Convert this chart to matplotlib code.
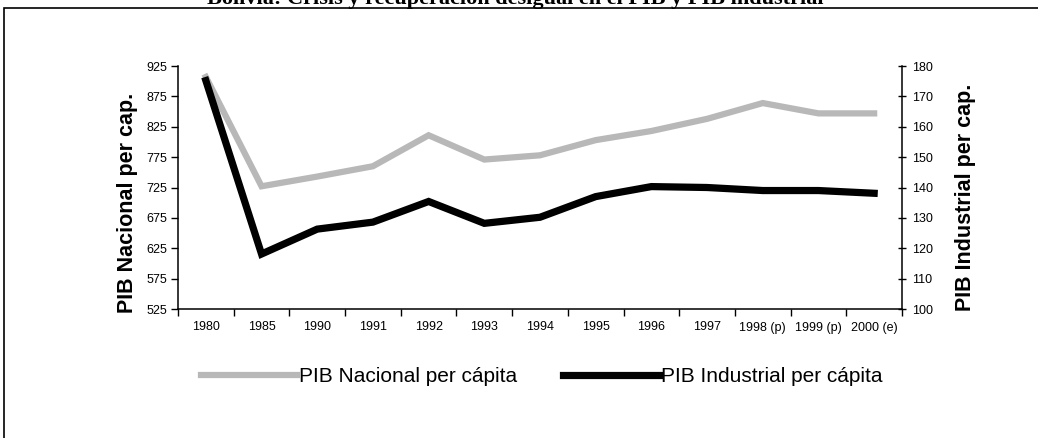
import matplotlib
matplotlib.use("Agg")
import matplotlib.pyplot as plt
from matplotlib.patches import Rectangle

# Datos
years = ["1980", "1985", "1990", "1991", "1992", "1993", "1994",
         "1995", "1996", "1997", "1998 (p)", "1999 (p)", "2000 (e)"]
pib_nacional = [907, 727, 743, 760, 811, 771, 778, 803, 818, 838, 864, 847, 847]
pib_industrial = [175.2, 118.1, 126.3, 128.6, 135.4, 128.2, 130.2, 137.0,
                  140.3, 140.0, 139.0, 139.0, 138.1]

plt.rcParams["font.family"] = ["Liberation Sans", "DejaVu Sans"]

W, H = 1038, 438
fig = plt.figure(figsize=(W / 100, H / 100), dpi=100)
ax = fig.add_axes([178 / W, 1 - 309 / H, (902 - 178) / W, (309 - 66) / H])
ax2 = ax.twinx()

x = list(range(len(years)))
l1, = ax.plot(x, pib_nacional, color="#b8b8b8", lw=4.5, solid_joinstyle="miter",
              label="PIB Nacional per cápita")
l2, = ax2.plot(x, pib_industrial, color="black", lw=5.2, solid_joinstyle="miter",
               label="PIB Industrial per cápita")

ax.set_xlim(-0.5, len(years) - 0.5)
ax.set_ylim(525, 925)
ax.set_yticks(range(525, 926, 50))
ax2.set_ylim(100, 180)
ax2.set_yticks(range(100, 181, 10))

# ticks en los limites de las categorias, etiquetas al centro
ax.set_xticks([i - 0.5 for i in range(len(years) + 1)])
ax.set_xticklabels([])
ax.set_xticks(x, minor=True)
ax.set_xticklabels(years, minor=True, fontsize=9)
ax.tick_params(axis="x", which="minor", length=0, pad=9)
ax.tick_params(axis="x", which="major", length=5, width=1, direction="out")
ax.tick_params(axis="y", length=5, width=1, direction="out", labelsize=9, pad=3)
ax2.tick_params(axis="y", length=6, width=1, direction="inout", labelsize=9, pad=4)

for a in (ax, ax2):
    a.spines["top"].set_visible(False)
    for s in ("left", "right", "bottom"):
        a.spines[s].set_linewidth(1.1)
ax.spines["right"].set_visible(False)
ax2.spines["left"].set_visible(False)
ax2.spines["bottom"].set_visible(False)

fig.text(128 / W, 1 - 203 / H, "PIB Nacional per cap.", rotation=90,
         ha="center", va="center", fontsize=15.5, fontweight="bold")
fig.text(965 / W, 1 - 197 / H, "PIB Industrial per cap.", rotation=90,
         ha="center", va="center", fontsize=15.5, fontweight="bold")

fig.legend(handles=[l1, l2], loc="center", bbox_to_anchor=(542 / W, 1 - 377 / H),
           ncol=2, frameon=False, handlelength=4.6, handletextpad=0.1,
           columnspacing=2.2, prop={"size": 15})

# titulo recortado por el borde superior
fig.text(515 / W, 1 - 4 / H,
         "Bolivia: Crisis y recuperación desigual en el PIB y PIB industrial",
         ha="center", va="baseline", fontsize=16, fontweight="bold",
         family="Liberation Serif")

fig.patches.append(Rectangle((4 / W, -0.1), 1.2, 1 - 8 / H + 0.1,
                             transform=fig.transFigure, fill=False,
                             edgecolor="black", linewidth=1.2))

fig.savefig("out.png", dpi=100)
